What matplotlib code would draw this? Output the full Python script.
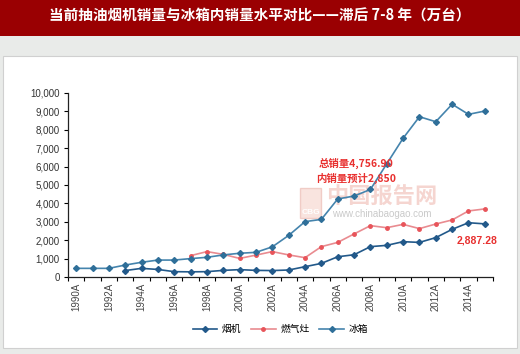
import numpy as np
import matplotlib.pyplot as plt
from matplotlib.patches import Rectangle

plt.rcParams['font.family'] = ['Liberation Sans', 'Noto Sans CJK SC', 'DejaVu Sans']
CJK = ['Noto Sans CJK SC', 'DejaVu Sans']

# --- data (万台) ---
years = [f"{y}A" for y in range(1990, 2016)]
hood_start = 3      # 烟机 from 1993
hood = [350, 470, 410, 290, 280, 290, 360, 400, 360, 350, 380, 560, 740,
        1100, 1210, 1650, 1720, 1920, 1880, 2140, 2590, 2950, 2887.28]
stove_start = 7     # 燃气灶 from 1997
stove = [1160, 1380, 1230, 1010, 1190, 1380, 1200, 1050, 1650, 1880,
         2340, 2790, 2680, 2860, 2630, 2880, 3100, 3590, 3700]
fridge = [470, 470, 470, 650, 800, 920, 920, 1000, 1070, 1200, 1290, 1340,
          1640, 2260, 3010, 3130, 4240, 4400, 4756.90, 6150, 7540, 8710,
          8440, 9390, 8840, 9020]

C_HOOD = '#22598a'
C_STOVE = '#e98b90'
C_FRIDGE = '#4584ad'
RED = '#e8302f'

fig = plt.figure(figsize=(5.2, 3.54), dpi=100)
fig.patch.set_facecolor('#e9ebe9')

# background panels
fig.add_artist(Rectangle((0, 1 - 36 / 354), 1, 36 / 354, transform=fig.transFigure,
                         facecolor='#9a0002', edgecolor='none', zorder=0))
fig.add_artist(Rectangle((3 / 520, 6 / 354), 514 / 520, 292 / 354,
                         transform=fig.transFigure, facecolor='white',
                         edgecolor='#d0d0d0', linewidth=0.8, zorder=0))
fig.text(0.5, 1 - 16 / 354, "当前抽油烟机销量与冰箱内销量水平对比——滞后 7-8 年（万台）",
         ha='center', va='center', color='white', fontsize=10.5, fontweight='bold', family=CJK)

ax = fig.add_axes([68 / 520, 1 - 277 / 354, 425 / 520, 184 / 354])
ax.set_facecolor('none')

x = np.arange(len(years))
ax.plot(x[hood_start:], hood, color=C_HOOD, lw=1.2, marker='D', ms=3, label='烟机', zorder=3)
ax.plot(x[stove_start:], stove, color=C_STOVE, lw=1.2, marker='o', ms=2.5,
        mfc='#e8545a', mec='#e8545a', label='燃气灶', zorder=2)
ax.plot(x, fridge, color=C_FRIDGE, lw=1.2, marker='D', ms=3, mfc='#2f6f99',
        mec='#2f6f99', label='冰箱', zorder=2)

ax.set_xlim(-0.5, len(years) - 0.5)
ax.set_ylim(0, 10000)
ax.set_yticks(np.arange(0, 10001, 1000))
ax.set_yticklabels([f"{v:,}" for v in range(0, 10001, 1000)], fontsize=7, color='#333333')
ax.set_xticks(x[::2])
ax.set_xticklabels(years[::2], rotation=90, fontsize=7, color='#444444')
ax.set_xticks(np.arange(-0.5, len(years), 1), minor=True)
ax.tick_params(axis='x', which='major', length=0, pad=4)
ax.tick_params(axis='x', which='minor', length=3, direction='out', width=0.8)
ax.tick_params(axis='y', length=3, width=0.8, pad=3)
for s in ['top', 'right']:
    ax.spines[s].set_visible(False)
for s in ['left', 'bottom']:
    ax.spines[s].set_color('#222222')
    ax.spines[s].set_linewidth(0.9)

# annotations
ax.text(17.1, 6200, "总销量4,756.90", color=RED, fontsize=7.5, fontweight='bold',
        ha='center', va='center', family=CJK, zorder=4)
ax.text(17.1, 5380, "内销量预计2,850", color=RED, fontsize=7.5, fontweight='bold',
        ha='center', va='center', family=CJK, zorder=4)
ax.text(24.55, 2010, "2,887.28", color=RED, fontsize=7.5, fontweight='bold',
        ha='center', va='center')

# watermark
ax.text(18.7, 4350, "中国报告网", color='#f2c4bd', fontsize=16, fontweight='bold',
        ha='center', va='center', family=CJK, alpha=0.7, zorder=1)
ax.text(18.7, 3420, "www.chinabaogao.com", color='#c0c0c0', fontsize=7,
        ha='center', va='center', alpha=0.85, zorder=1)
ax.add_patch(Rectangle((13.7, 3200), 1.3, 1650, facecolor='#f5d3cb', edgecolor='#eab4ac',
                       alpha=0.6, zorder=1))
ax.text(14.35, 3500, "CBG", color='white', fontsize=6, fontweight='bold',
        ha='center', va='center', zorder=1)

ax.legend(loc='center', bbox_to_anchor=(0.5, -0.285), ncol=3, frameon=False,
          prop={'family': CJK, 'size': 7}, handlelength=2.5, columnspacing=1.0,
          handletextpad=0.5)

fig.savefig('out.png', dpi=100, facecolor=fig.get_facecolor())
